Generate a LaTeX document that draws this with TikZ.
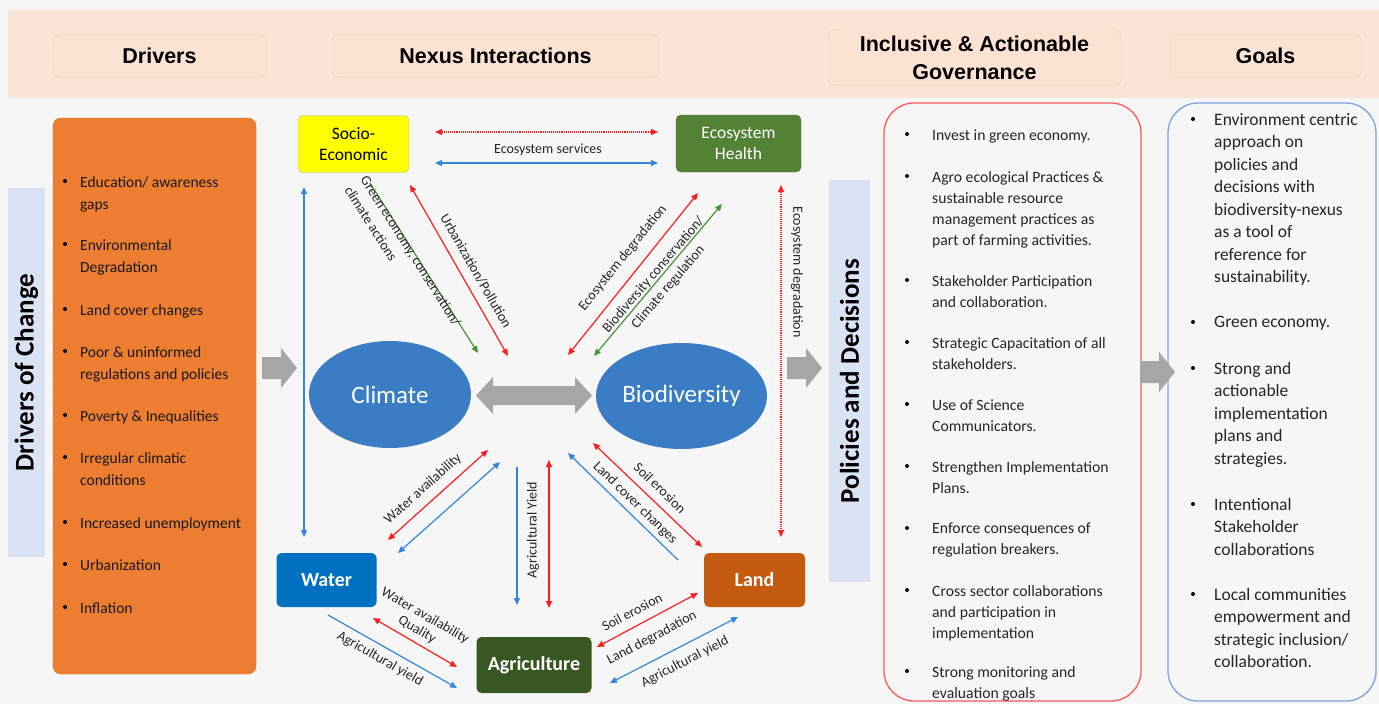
\documentclass[tikz,border=0pt]{standalone}
\usepackage{fontspec}
\setmainfont{Carlito}
\newfontfamily\hdfont{Liberation Sans}
\usetikzlibrary{arrows.meta}
\usetikzlibrary{shapes.geometric}

\definecolor{paper}{RGB}{246,246,246}
\definecolor{peach}{RGB}{251,229,214}
\definecolor{hdline}{RGB}{246,196,165}
\definecolor{hdfill}{RGB}{252,226,211}
\definecolor{sidebar}{RGB}{218,227,243}
\definecolor{drvorange}{RGB}{237,125,49}
\definecolor{drvline}{RGB}{220,108,34}
\definecolor{socyellow}{RGB}{255,255,0}
\definecolor{ecogreen}{RGB}{84,130,53}
\definecolor{blobblue}{RGB}{58,125,196}
\definecolor{watblue}{RGB}{0,112,192}
\definecolor{landbrown}{RGB}{197,90,17}
\definecolor{agrigreen}{RGB}{56,87,35}
\definecolor{arrred}{RGB}{250,30,30}
\definecolor{arrblue}{RGB}{50,135,220}
\definecolor{arrgreen}{RGB}{70,150,50}
\definecolor{fatgray}{RGB}{166,166,166}
\definecolor{polred}{RGB}{255,90,90}
\definecolor{goalblue}{RGB}{120,165,225}

\begin{document}
\begin{tikzpicture}[x=1pt, y=-1pt,
    hdr/.style={draw=hdline, fill=hdfill, rounded corners=6pt, inner sep=0pt, align=center, font=\hdfont\bfseries\fontsize{21.5}{28}\selectfont},
    side/.style={fill=sidebar, inner sep=0pt, rotate=90, font=\bfseries\fontsize{27}{30}\selectfont},
    sector/.style={rounded corners=5pt, inner sep=0pt, align=center, font=\fontsize{17.5}{21}\selectfont},
    blob/.style={ellipse, fill=blobblue, inner sep=0pt, text=white, font=\fontsize{25}{28}\selectfont},
    lbl/.style={inner sep=0pt, align=center, text=black!85, font=\fontsize{14}{19}\selectfont},
    pt/.style={circle, fill=black, inner sep=0pt, minimum size=4pt},
    drvtext/.style={anchor=north west, align=left, inner sep=0pt, yshift=-3.5pt, text=black!90, font=\fontsize{15.5}{22}\selectfont},
    poltext/.style={anchor=north west, align=left, inner sep=0pt, yshift=-3pt, text=black!85, font=\fontsize{15.7}{21}\selectfont},
    goaltext/.style={anchor=north west, align=left, inner sep=0pt, yshift=-3pt, text=black!85, font=\fontsize{17.5}{22.5}\selectfont},
    redlink/.style={draw=arrred, line width=1.2pt},
    bluelink/.style={draw=arrblue, line width=1.2pt},
    greenlink/.style={draw=arrgreen, line width=1.2pt},
    reddots/.style={draw=arrred, line width=1.1pt, densely dotted},
    >={Triangle[length=7pt,width=6pt]}]

    \fill[paper] (0,0) rectangle (1379,704);
    \useasboundingbox (0,0) rectangle (1379,704);

    % heading band
    \fill[peach] (8,10) rectangle (1379,98);
    \node[hdr, minimum width=213pt, minimum height=42pt] (hdrivers) at (159.5,56) {Drivers};
    \node[hdr, minimum width=327pt, minimum height=42pt] (hnexus) at (495.5,56) {Nexus Interactions};
    \node[hdr, minimum width=293pt, minimum height=55pt] (hgov) at (974.5,57.5) {Inclusive \& Actionable\\Governance};
    \node[hdr, minimum width=191pt, minimum height=42pt] (hgoals) at (1265.5,56) {Goals};

    % drivers
    \node[side, minimum width=369pt, minimum height=37pt] (dchange) at (26.5,372.5) {Drivers of Change};
    \node[draw=drvline, fill=drvorange, rounded corners=8pt, minimum width=203pt, minimum height=556pt] (drv) at (154.5,396) {};

    \node[pt] (ob1) at (65,181) {};
    \node[drvtext] (o1) at (80,173) {Education/ awareness\\gaps};
    \node[pt] (ob2) at (65,244) {};
    \node[drvtext] (o2) at (80,236) {Environmental\\Degradation};
    \node[pt] (ob3) at (65,309) {};
    \node[drvtext] (o3) at (80,301) {Land cover changes};
    \node[pt] (ob4) at (65,351) {};
    \node[drvtext] (o4) at (80,343) {Poor \& uninformed\\regulations and policies};
    \node[pt] (ob5) at (65,415) {};
    \node[drvtext] (o5) at (80,407) {Poverty \& Inequalities};
    \node[pt] (ob6) at (65,457) {};
    \node[drvtext] (o6) at (80,449) {Irregular climatic\\conditions};
    \node[pt] (ob7) at (65,522) {};
    \node[drvtext] (o7) at (80,514) {Increased unemployment};
    \node[pt] (ob8) at (65,564) {};
    \node[drvtext] (o8) at (80,556) {Urbanization};
    \node[pt] (ob9) at (65,607) {};
    \node[drvtext] (o9) at (80,599) {Inflation};

    % block arrows
    \fill[fatgray] (262,357) -- (281,357) -- (281,348) -- (297,368) -- (281,388) -- (281,379) -- (262,379) -- cycle;
    \fill[fatgray] (787,357) -- (806,357) -- (806,348) -- (822,368) -- (806,388) -- (806,379) -- (787,379) -- cycle;
    \fill[fatgray] (476,395.5) -- (493,377) -- (493,386) -- (575,386) -- (575,377) -- (592,395.5) -- (575,414) -- (575,405) -- (493,405) -- (493,414) -- cycle;

    % nexus
    \node[sector, draw=gray!60, fill=socyellow, minimum width=111pt, minimum height=57pt] (socio) at (353.5,144) {Socio-\\Economic};
    \node[sector, draw=ecogreen!85!black, fill=ecogreen, text=white, minimum width=125pt, minimum height=57pt] (ecoh) at (738.5,143.5) {Ecosystem\\Health};
    \node[blob, minimum width=162pt, minimum height=107pt] (climate) at (390,394.5) {Climate};
    \node[blob, minimum width=171pt, minimum height=106pt] (biodiv) at (681.5,396) {Biodiversity};
    \node[sector, fill=watblue, text=white, font=\bfseries\fontsize{20}{22}\selectfont, minimum width=100pt, minimum height=54pt] (water) at (326.5,580) {Water};
    \node[sector, fill=landbrown, text=white, font=\bfseries\fontsize{20}{22}\selectfont, minimum width=101pt, minimum height=54pt] (land) at (754.5,580) {Land};
    \node[sector, fill=agrigreen, text=white, font=\bfseries\fontsize{20}{22}\selectfont, minimum width=115pt, minimum height=56pt] (agri) at (534,665) {Agriculture};

    \coordinate (seL) at (435,132);
    \coordinate (seR) at (658,132);
    \coordinate (esL) at (435,163);
    \coordinate (esR) at (658,163);
    \coordinate (wsT) at (304,187);
    \coordinate (wsB) at (304,537);
    \coordinate (geS) at (370,183);
    \coordinate (geC) at (478,353);
    \coordinate (upS) at (410,185);
    \coordinate (upC) at (508,356);
    \coordinate (edH) at (698,193);
    \coordinate (edC) at (568,355);
    \coordinate (bcH) at (722,204);
    \coordinate (bcB) at (594,356);
    \coordinate (elH) at (781,185);
    \coordinate (elL) at (781,537);
    \coordinate (waC) at (488,450);
    \coordinate (waW) at (388,540);
    \coordinate (wbC) at (500,462);
    \coordinate (wbW) at (398,553);
    \coordinate (ayT) at (517,467);
    \coordinate (ayB) at (517,605);
    \coordinate (arT) at (549,460);
    \coordinate (arB) at (549,608);
    \coordinate (sbB) at (593,443);
    \coordinate (sbL) at (702,547);
    \coordinate (lcB) at (568,453);
    \coordinate (lcL) at (678,560);
    \coordinate (wqW) at (373,618);
    \coordinate (wqA) at (457,667);
    \coordinate (wyW) at (328,615);
    \coordinate (wyA) at (457,688);
    \coordinate (sdA) at (597,647);
    \coordinate (sdL) at (698,593);
    \coordinate (ylA) at (610,683);
    \coordinate (ylL) at (738,617);

    \draw[reddots, <->] (seL) -- (seR);
    \draw[bluelink, <->] (esL) -- (esR);
    \draw[bluelink, <->] (wsT) -- (wsB);
    \draw[greenlink, ->] (geS) -- (geC);
    \draw[redlink, <->] (upS) -- (upC);
    \draw[redlink, <->] (edH) -- (edC);
    \draw[greenlink, <->] (bcH) -- (bcB);
    \draw[reddots, <->] (elH) -- (elL);
    \draw[redlink, <->] (waC) -- (waW);
    \draw[bluelink, <->] (wbC) -- (wbW);
    \draw[bluelink, ->] (ayT) -- (ayB);
    \draw[redlink, <->] (arT) -- (arB);
    \draw[redlink, <->] (sbB) -- (sbL);
    \draw[bluelink, ->] (lcL) -- (lcB);
    \draw[redlink, <->] (wqW) -- (wqA);
    \draw[bluelink, ->] (wyW) -- (wyA);
    \draw[redlink, <->] (sdA) -- (sdL);
    \draw[bluelink, <->] (ylA) -- (ylL);

    \node[lbl] (lserv) at (548,150) {Ecosystem services};
    \node[lbl, align=left, rotate=-57.5] (lgreen) at (403,256) {Green economy, conservation/\\climate actions};
    \node[lbl, rotate=-60] (lurb) at (476,271) {Urbanization/Pollution};
    \node[lbl, rotate=51] (ledeg) at (623,258) {Ecosystem degradation};
    \node[lbl, rotate=49.5] (lbio) at (661,281) {Biodiversity conservation/\\Climate regulation};
    \node[lbl, rotate=-90] (lhdeg) at (797,272) {Ecosystem degradation};
    \node[lbl, rotate=42] (lwat) at (423,489) {Water availability};
    \node[lbl, rotate=90] (layv) at (533,530) {Agricultural Yield};
    \node[lbl, rotate=-43.7] (lsoil) at (660,488) {Soil erosion};
    \node[lbl, rotate=-44] (lcover) at (635,503) {Land cover changes};
    \node[lbl, rotate=-30, font=\fontsize{14}{16}\selectfont] (lqual) at (421,623) {Water availability\\Quality};
    \node[lbl, rotate=-29.5] (lyw) at (380,659) {Agricultural yield};
    \node[lbl, rotate=28] (lsoil2) at (632,612) {Soil erosion};
    \node[lbl, rotate=28] (ldeg) at (652,638) {Land degradation};
    \node[lbl, rotate=27] (lyl) at (685,662) {Agricultural yield};

    % governance
    \node[side, minimum width=402pt, minimum height=41pt] (pdec) at (849.5,381) {Policies and Decisions};
    \draw[polred, line width=1.3pt, fill=paper, rounded corners=30pt] (884,103) rectangle (1141,701);

    \node[pt] (rb1) at (907,134) {};
    \node[poltext] (r1) at (932,126) {Invest in green economy.};
    \node[pt] (rb2) at (907,176) {};
    \node[poltext] (r2) at (932,168) {Agro ecological Practices \&\\sustainable resource\\management practices as\\part of farming activities.};
    \node[pt] (rb3) at (907,280) {};
    \node[poltext] (r3) at (932,272) {Stakeholder Participation\\and collaboration.};
    \node[pt] (rb4) at (907,342) {};
    \node[poltext] (r4) at (932,334) {Strategic Capacitation of all\\stakeholders.};
    \node[pt] (rb5) at (907,404) {};
    \node[poltext] (r5) at (932,396) {Use of Science\\Communicators.};
    \node[pt] (rb6) at (907,466) {};
    \node[poltext] (r6) at (932,458) {Strengthen Implementation\\Plans.};
    \node[pt] (rb7) at (907,528) {};
    \node[poltext] (r7) at (932,520) {Enforce consequences of\\regulation breakers.};
    \node[pt] (rb8) at (907,590) {};
    \node[poltext] (r8) at (932,582) {Cross sector collaborations\\and participation in\\implementation};
    \node[pt] (rb9) at (907,671) {};
    \node[poltext] (r9) at (932,663) {Strong monitoring and\\evaluation goals};

    % goals
    \draw[goalblue, line width=1.3pt, fill=paper, rounded corners=30pt] (1168,103) rectangle (1376,701);
    \fill[fatgray] (1140,361) -- (1159,361) -- (1159,352) -- (1175,372) -- (1159,392) -- (1159,383) -- (1140,383) -- cycle;

    \node[pt] (gb1) at (1193,119) {};
    \node[goaltext] (g1) at (1214,110) {Environment centric\\approach on\\policies and\\decisions with\\biodiversity-nexus\\as a tool of\\reference for\\sustainability.};
    \node[pt] (gb2) at (1193,322) {};
    \node[goaltext] (g2) at (1214,313) {Green economy.};
    \node[pt] (gb3) at (1193,368) {};
    \node[goaltext] (g3) at (1214,359) {Strong and\\actionable\\implementation\\plans and\\strategies.};
    \node[pt] (gb4) at (1193,504) {};
    \node[goaltext] (g4) at (1214,495) {Intentional\\Stakeholder\\collaborations};
    \node[pt] (gb5) at (1193,594) {};
    \node[goaltext] (g5) at (1214,585) {Local communities\\empowerment and\\strategic inclusion/\\collaboration.};
\end{tikzpicture}
\end{document}
